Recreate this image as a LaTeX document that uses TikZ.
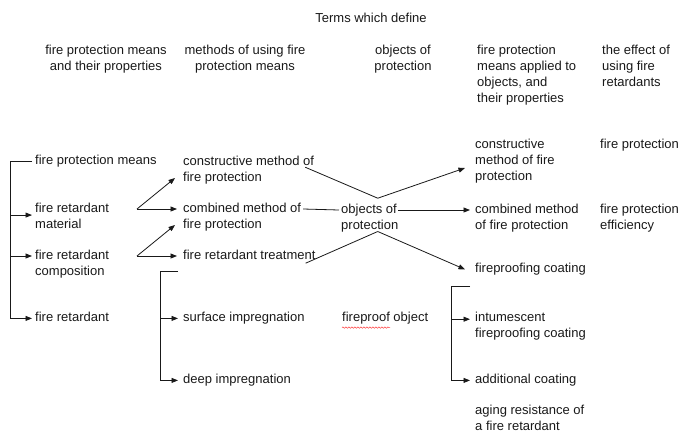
\documentclass[tikz,border=0pt]{standalone}
\usepackage{fontspec}
\setmainfont{Liberation Sans}
\usetikzlibrary{arrows.meta,calc,decorations.pathmorphing}
\definecolor{ink}{RGB}{25,25,25}
\begin{document}
\begin{tikzpicture}[x=1pt,y=-1pt,
  txt/.style={anchor=north west, inner sep=0pt, align=left, text=ink, font=\fontsize{13}{16}\selectfont},
  hdc/.style={anchor=north, inner sep=0pt, align=center, text=ink, font=\fontsize{13}{16}\selectfont},
  ln/.style={draw=ink, line width=0.8pt},
  arr/.style={ln, -{Triangle[length=6.5pt,width=5pt]}}]
\useasboundingbox (0,0) rectangle (683,432);
% headers
\node[hdc] (title) at (371,11.2) {\strut Terms which define};
\node[hdc] (h1) at (106,43.2) {\strut fire protection means\\and their properties};
\node[hdc] (h2) at (245,43.2) {\strut methods of using fire\\protection means};
\node[hdc] (h3) at (403,43.2) {\strut objects of\\protection};
\node[txt] (h4) at (477,43.2) {\strut fire protection\\means applied to\\objects, and\\their properties};
\node[txt] (h5) at (602,43.2) {\strut the effect of\\using fire\\retardants};
% column 1
\node[txt] (a1) at (35,153.2) {\strut fire protection means};
\node[txt] (a2) at (35,201.2) {\strut fire retardant\\material};
\node[txt] (a3) at (35,248.2) {\strut fire retardant\\composition};
\node[txt] (a4) at (35,310.2) {\strut fire retardant};
% column 2
\node[txt] (b1) at (183,154.2) {\strut constructive method of\\fire protection};
\node[txt] (b2) at (183,201.2) {\strut combined method of\\fire protection};
\node[txt] (b3) at (183,248.2) {\strut fire retardant treatment};
\node[txt] (b4) at (183,310.2) {\strut surface impregnation};
\node[txt] (b5) at (183,372.2) {\strut deep impregnation};
% column 3
\node[txt] (c1) at (341,202.2) {\strut objects of\\protection};
\node[txt] (c2) at (342,310.2) {\strut fireproof object};
% column 4
\node[txt] (d1) at (475,137.2) {\strut constructive\\method of fire\\protection};
\node[txt] (d2) at (475,202.2) {\strut combined method\\of fire protection};
\node[txt] (d3) at (475,261.2) {\strut fireproofing coating};
\node[txt] (d4) at (475,310.2) {\strut intumescent\\fireproofing coating};
\node[txt] (d5) at (475,372.2) {\strut additional coating};
\node[txt] (d6) at (475,403.2) {\strut aging resistance of\\a fire retardant};
% column 5
\node[txt] (e1) at (600,137.2) {\strut fire protection};
\node[txt] (e2) at (600,202.2) {\strut fire protection\\efficiency};
% helper coordinates
\coordinate (a3l1) at ($(a3.north west)+(-3,7.8)$);
\coordinate (p1) at ($(a2.north west)+(102,7.8)$);
\coordinate (p2) at ($(a3.north west)+(102,7.8)$);
\coordinate (x1) at ($(c1.north)+(8,-4)$);
\coordinate (x2) at ($(c1.south)+(8,-1)$);
\coordinate (d4l1) at ($(d4.north west)+(-5,9)$);
% left bracket
\draw[arr] ([xshift=-3pt]a1.west) -- ++(-22,0) coordinate (lb) |- ([xshift=-3pt]a4.west);
\draw[arr] (lb |- a2.west) -- ([xshift=-3pt]a2.west);
\draw[arr] (lb |- a3l1) -- (a3l1);
% column 1 -> column 2
\draw[arr] (p1) -- ($(b1.north west)+(-8,23.8)$);
\draw[arr] (p1) -- ($(b2.north west)+(-6,7.8)$);
\draw[arr] (p2) -- ($(b2.north west)+(-8,23.8)$);
\draw[arr] (p2) -- ($(b3.north west)+(-6,7.8)$);
% column 2 bracket
\draw[arr] ($(b3.south west)+(-5,7)$) -- ++(-18,0) coordinate (bv) |- ([xshift=-5pt]b5.west);
\draw[arr] (bv |- b4.west) -- ([xshift=-5pt]b4.west);
% centre crossing
\draw[ln] ($(b1.north east)+(-9,13)$) -- (x1);
\draw[arr] (x1) -- ($(d1.north west)+(-10,30.8)$);
\draw[ln] ($(b2.north east)+(2,7.8)$) -- ($(c1.north west)+(-2,7.8)$);
\draw[arr] ($(c1.north east)+(0,7.8)$) -- ($(d2.north west)+(-5,7.8)$);
\draw[ln] ($(b3.north east)+(-10,15)$) -- (x2);
\draw[arr] (x2) -- ($(d3.west)+(-10,0)$);
% right bracket
\draw[arr] ($(d3.south west)+(-5,9)$) -- ++(-19,0) coordinate (dv) |- ([xshift=-5pt]d5.west);
\draw[arr] (dv |- d4l1) -- (d4l1);
% spell-check squiggle
\draw[red!75!white, line width=0.5pt, decorate, decoration={snake,amplitude=0.7pt,segment length=3pt}] ($(c2.south west)+(0,1)$) -- ++(48,0);
\end{tikzpicture}
\end{document}
